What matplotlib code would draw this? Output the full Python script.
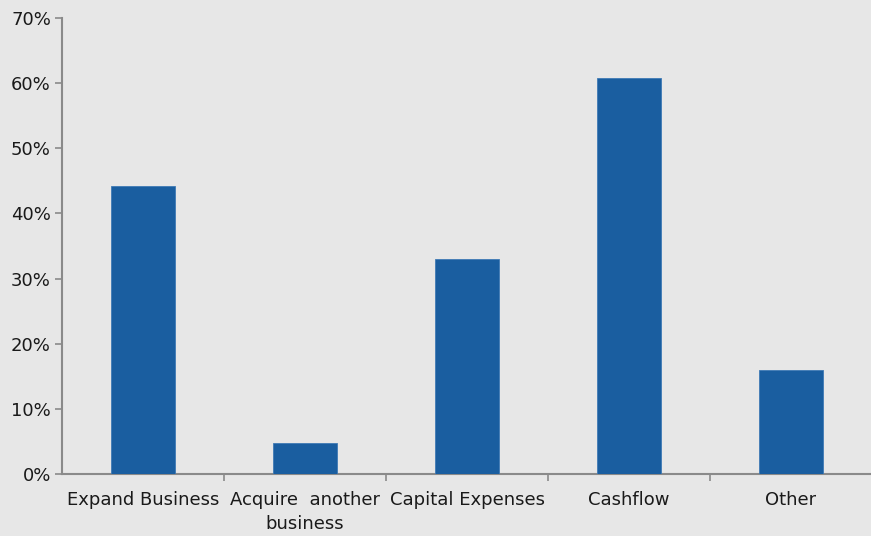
import matplotlib
matplotlib.use("Agg")
import matplotlib.pyplot as plt
from matplotlib.ticker import FixedLocator, FuncFormatter

categories = ["Expand Business", "Acquire  another\nbusiness", "Capital Expenses", "Cashflow", "Other"]
values = [44.2, 4.8, 33.0, 60.8, 15.9]
yticks = [0, 10, 20, 30, 40, 50, 60, 70]

W, H = 871, 536
fig = plt.figure(figsize=(W / 100, H / 100), dpi=100)
fig.patch.set_facecolor("#e7e7e7")
ax = fig.add_axes([62 / W, (H - 474) / H, (872 - 62) / W, (474 - 18) / H])
ax.set_facecolor("none")

x = list(range(len(categories)))
ax.bar(x, values, width=0.4, color="#1a5ea0", edgecolor="#3f7ab5", linewidth=0.6, zorder=3)

ax.set_xlim(-0.5, len(categories) - 0.5)
ax.set_ylim(0, 70)
ax.set_yticks(yticks)
ax.yaxis.set_major_formatter(FuncFormatter(lambda v, p: f"{int(v)}%"))
ax.set_xticks(x)
ax.set_xticklabels(categories, fontsize=13, color="#1a1a1a", linespacing=1.45)
ax.xaxis.set_minor_locator(FixedLocator([i + 0.5 for i in range(len(categories))]))
ax.tick_params(axis="x", which="major", length=0, pad=12)
ax.tick_params(axis="x", which="minor", length=5, color="#8a8a8a", width=1.2, direction="out")
ax.tick_params(axis="y", length=5, color="#8a8a8a", width=1.2, labelsize=13, labelcolor="#1a1a1a", pad=3)

for s in ["top", "right"]:
    ax.spines[s].set_visible(False)
for s in ["left", "bottom"]:
    ax.spines[s].set_color("#8a8a8a")
    ax.spines[s].set_linewidth(1.5)

fig.savefig("out.png", dpi=100, facecolor=fig.get_facecolor())
